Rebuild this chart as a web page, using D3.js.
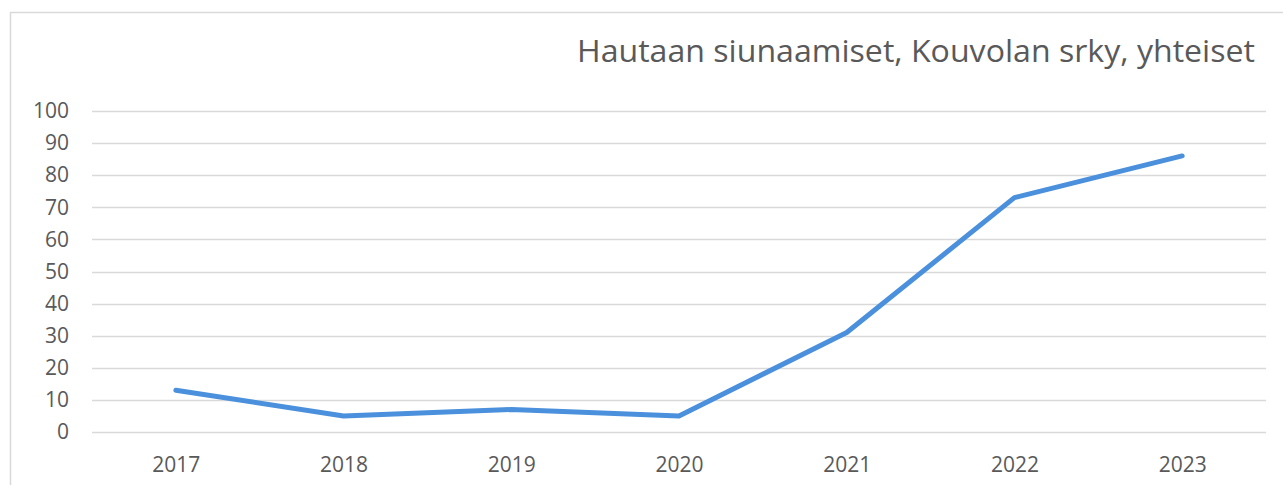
<!DOCTYPE html>
<html>
<head>
<meta charset="utf-8">
<script src="https://cdn.jsdelivr.net/npm/d3@7"></script>
<style>
  body { margin: 0; background: #fff; }
  svg { display: block; }
</style>
</head>
<body>
<div id="chart"></div>
<script>
// chart data
var years = ["2017", "2018", "2019", "2020", "2021", "2022", "2023"];
var values = [13, 5, 7, 5, 31, 73, 86];
var yTicks = [0, 10, 20, 30, 40, 50, 60, 70, 80, 90, 100];
var title = "Hautaan siunaamiset, Kouvolan srky, yhteiset";

var W = 1283, H = 485;
var margin = { top: 111, right: 17, bottom: 53, left: 92 };
var width = W - margin.left - margin.right,
    height = H - margin.top - margin.bottom;

var svg = d3.select("#chart")
    .append("svg")
    .attr("width", W)
    .attr("height", H);

// chart border
svg.append("rect")
    .attr("x", 10.5)
    .attr("y", 12.5)
    .attr("width", W + 20)
    .attr("height", H + 20)
    .attr("fill", "none")
    .attr("stroke", "#d9d9d9")
    .attr("stroke-width", 1.5);

// title
svg.append("text")
    .attr("x", 1255)
    .attr("y", 62)
    .attr("text-anchor", "end")
    .attr("textLength", 678)
    .attr("lengthAdjust", "spacingAndGlyphs")
    .style("font-family", "'Open Sans', 'Liberation Sans', sans-serif")
    .style("font-size", "31px")
    .style("fill", "#595959")
    .text(title);

var g = svg.append("g")
    .attr("transform", "translate(" + margin.left + "," + margin.top + ")");

var xScale = d3.scalePoint().domain(years).range([0, width]).padding(0.5);
var yScale = d3.scaleLinear().domain([0, 100]).range([height, 0]);

// gridlines
g.append("g")
    .selectAll("line")
    .data(yTicks)
    .enter()
    .append("line")
    .attr("x1", 0)
    .attr("x2", width)
    .attr("y1", function (d) { return Math.round(yScale(d)) + 0.5; })
    .attr("y2", function (d) { return Math.round(yScale(d)) + 0.5; })
    .attr("stroke", "#d9d9d9")
    .attr("stroke-width", 1.5);

// y axis
var yAxis = g.append("g")
    .call(d3.axisLeft(yScale).tickValues(yTicks).tickSize(0).tickPadding(23));
yAxis.select(".domain").remove();
yAxis.selectAll("text")
    .style("font-family", "'Open Sans', 'Liberation Sans', sans-serif")
    .style("font-size", "21px")
    .style("fill", "#595959");

// x axis
var xAxis = g.append("g")
    .attr("transform", "translate(0," + height + ")")
    .call(d3.axisBottom(xScale).tickSize(0).tickPadding(25));
xAxis.select(".domain").remove();
xAxis.selectAll("text")
    .style("font-family", "'Open Sans', 'Liberation Sans', sans-serif")
    .style("font-size", "21px")
    .style("fill", "#595959");

// line
var line = d3.line()
    .x(function (d, i) { return xScale(years[i]); })
    .y(function (d) { return yScale(d); });

g.append("path")
    .datum(values)
    .attr("d", line)
    .attr("fill", "none")
    .attr("stroke", "#4a90dc")
    .attr("stroke-width", 5)
    .attr("stroke-linecap", "round")
    .attr("stroke-linejoin", "round");
</script>
</body>
</html>
